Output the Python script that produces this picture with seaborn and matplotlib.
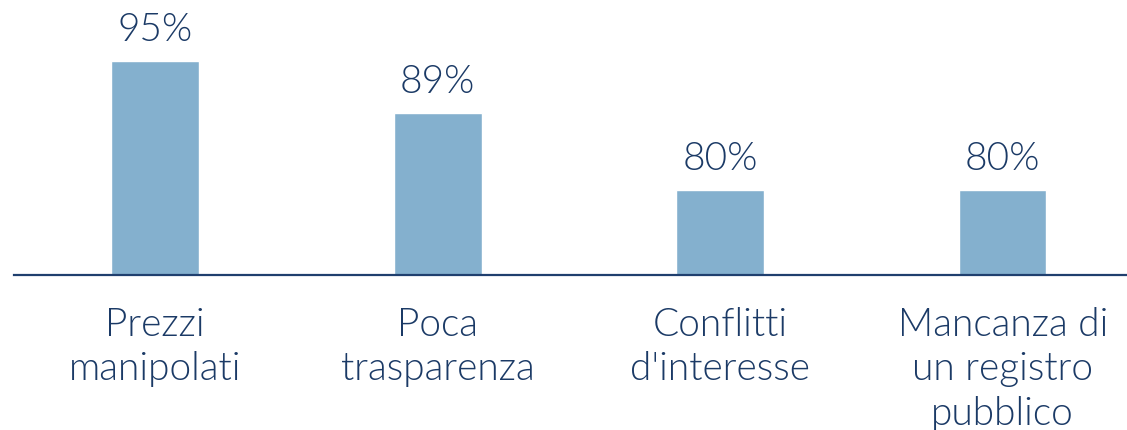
import matplotlib.pyplot as plt
import seaborn as sns
import pandas as pd

categorie = ['Prezzi\nmanipolati', 'Poca\ntrasparenza', "Conflitti\nd'interesse",
             'Mancanza di\nun registro\npubblico']
percentuali = [95, 89, 80, 80]

COLORE_BARRE = '#84B0CE'
COLORE_TESTO = '#1B3A66'

sns.set_theme(style='white')
plt.rcParams['font.family'] = ['Lato', 'DejaVu Sans']

df = pd.DataFrame({'categoria': categorie, 'valore': percentuali})

fig = plt.figure(figsize=(11.27, 4.31), dpi=100)
ax = fig.add_axes([14 / 1127, 155 / 431, 1 - 14 / 1127, 276 / 431])

sns.barplot(data=df, x='categoria', y='valore', color=COLORE_BARRE,
            width=0.31, saturation=1, ax=ax)

ax.set_ylim(70, 102.3)
ax.set_xlim(-0.5, 3.44)

for cont in ax.containers:
    ax.bar_label(cont, labels=[f'{v}%' for v in percentuali], padding=10,
                 fontsize=28, color=COLORE_TESTO, fontweight=300)

ax.set_xlabel('')
ax.set_ylabel('')
ax.set_yticks([])
ax.tick_params(axis='x', length=0, pad=22, labelsize=28, labelcolor=COLORE_TESTO)
for lab in ax.get_xticklabels():
    lab.set_linespacing(1.3)
    lab.set_fontweight(300)

for s in ['top', 'right', 'left']:
    ax.spines[s].set_visible(False)
ax.spines['bottom'].set_color('#1F3F6E')
ax.spines['bottom'].set_linewidth(1.6)

fig.savefig('out.png', dpi=100)
